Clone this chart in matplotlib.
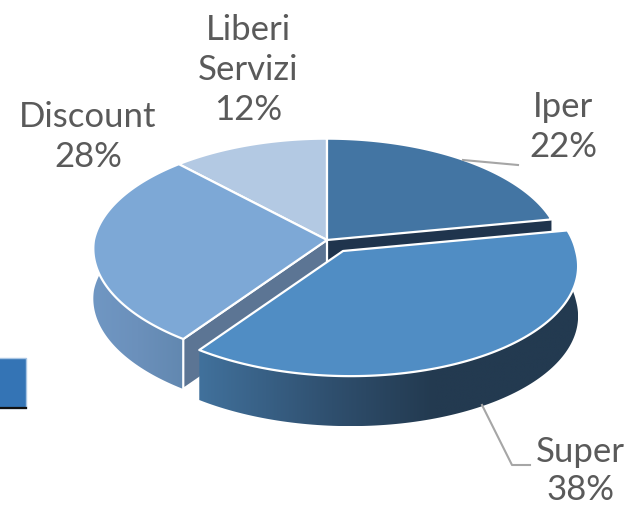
import numpy as np
import matplotlib
matplotlib.use('Agg')
import matplotlib.pyplot as plt
from matplotlib.colors import LinearSegmentedColormap
from matplotlib.patches import Polygon, Rectangle

# shares, clockwise from 12 o'clock
names = ['Iper', 'Super', 'Discount', 'Liberi\nServizi']
shares = [22, 38, 28, 12]
top_colors = ['#4375a3', '#508dc4', '#7da8d6', '#b3c9e3']

# pie geometry in pixels
RX, B, K = 233.0, 112.0, 0.105
SKEW = 0.06
DEPTH = 50
N = 120
APEX = (327, 240)
APEX_SUPER = (343, 251)


def rim(theta, apex):
    # circle seen in perspective, so the front is bigger than the back
    t = np.radians(theta)
    u, v = np.sin(t), np.cos(t)
    w = 1 + K * v
    dy = -B * v / w
    # the front edge leans a little to the right in the original
    return np.column_stack([apex[0] + RX * u / w + SKEW * np.maximum(dy, 0), apex[1] + dy])


def sector(a, b, apex):
    return np.vstack([apex, rim(np.linspace(a, b, N), apex)])


def wall(a, b, apex):
    pts = rim(np.linspace(a, b, N), apex)
    return np.vstack([pts, (pts + [0, DEPTH])[::-1]])


def gradient_fill(ax, pts, stops, zorder):
    cmap = LinearSegmentedColormap.from_list('w', stops)
    x0, x1 = pts[:, 0].min(), pts[:, 0].max()
    y0, y1 = pts[:, 1].min(), pts[:, 1].max()
    im = ax.imshow(np.linspace(0, 1, 256).reshape(1, -1), cmap=cmap, aspect='auto',
                   extent=(x0, x1, y1, y0), zorder=zorder, interpolation='bilinear')
    clip = Polygon(pts, closed=True, transform=ax.transData, fc='none', ec='none')
    ax.add_patch(clip)
    im.set_clip_path(clip)


fig = plt.figure(figsize=(6.29, 5.07), dpi=100)
ax = fig.add_axes([0, 0, 1, 1])

edges = np.concatenate([[0], np.cumsum(shares)]) * 3.6
iper = (edges[0], edges[1])
sup = (edges[1], edges[2])
disc = (edges[2], edges[3])
lib = (edges[3], edges[4])

WHITE = dict(ec='white', lw=1.6, joinstyle='round')

# leftover blue box at the left edge
ax.add_patch(Rectangle((-2, 358), 28, 50, fc='#3474b5', ec='#a9c6e4', lw=1, zorder=1))
ax.plot([0, 26], [408, 408], color='#111111', lw=1.6, zorder=1.1)

# back slices
ax.add_patch(Polygon(sector(*lib, APEX), fc=top_colors[3], **WHITE, zorder=2))

# cut face of Iper, seen in the gap
ip = rim(iper[1], APEX)[0]
face = np.array([APEX, ip, ip + [0, DEPTH], [APEX[0], APEX[1] + DEPTH]])
ax.add_patch(Polygon(face, fc='#1f344d', ec='none', zorder=2.5))
ax.add_patch(Polygon(sector(*iper, APEX), fc=top_colors[0], **WHITE, zorder=3))

# Discount: wall, cut face, top
gradient_fill(ax, wall(*disc, APEX), ['#7097c3', '#6b90bb', '#6288b0'], 4)
dp = rim(disc[0], APEX)[0]
face = np.array([APEX, dp, dp + [0, DEPTH], [APEX[0], APEX[1] + DEPTH]])
ax.add_patch(Polygon(face, fc='#5c7594', **WHITE, zorder=4.5))
ax.add_patch(Polygon(sector(*disc, APEX), fc=top_colors[2], **WHITE, zorder=5))

# Super: wall and top
gradient_fill(ax, wall(*sup, APEX_SUPER),
              [(0, '#41719c'), (0.35, '#2f4f6e'), (0.62, '#233a50'), (1, '#233a50')], 6)
ax.add_patch(Polygon(sector(*sup, APEX_SUPER), fc=top_colors[1], **WHITE, zorder=7))

# leader lines
ax.plot([463, 518], [160, 165], color='#a6a6a6', lw=1.5, zorder=8)
ax.plot([482, 512, 530], [405, 465, 465], color='#a6a6a6', lw=1.5, zorder=8)

# labels
label_xy = [(563, 127), (580, 471), (88, 137), (248, 70)]
label_gap = [1.32, 1.2, 1.32, 1.32]
for name, share, (x, y), gap in zip(names, shares, label_xy, label_gap):
    ax.text(x, y, f'{name}\n{share}%', ha='center', va='center', fontsize=25,
            family='Lato', color='#5a5a5a', linespacing=gap, zorder=9)

ax.set_xlim(0, 629)
ax.set_ylim(507, 0)
ax.axis('off')
fig.savefig('out.png', dpi=100)
